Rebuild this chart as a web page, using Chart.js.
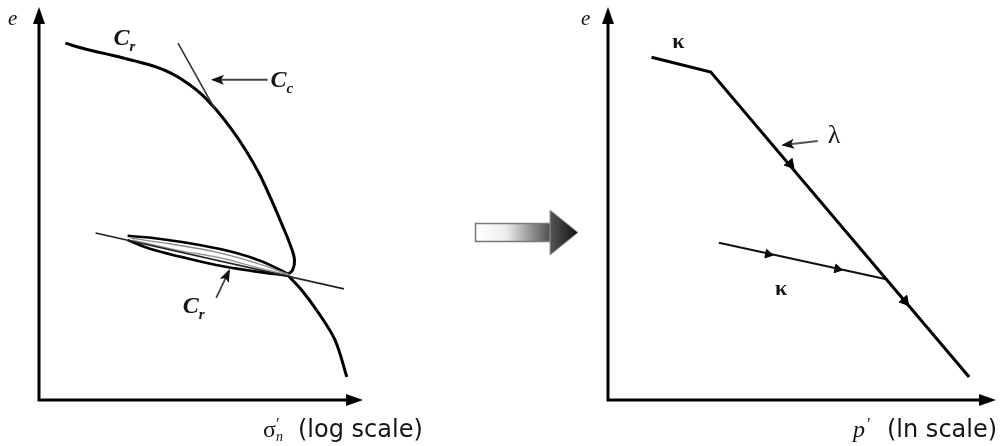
<!DOCTYPE html>
<html lang="en">
<head>
    <meta charset="UTF-8">
    <title>Compression and swelling lines</title>
    <script src="https://cdn.jsdelivr.net/npm/chart.js"></script>
    <style>
        body { margin: 0; background: #fff; }
        #wrap { position: relative; width: 1000px; height: 446px; overflow: hidden; }
        canvas, svg { position: absolute; top: 0; }
    </style>
</head>
<body>
<div id="wrap">
    <canvas id="leftChart" width="470" height="446" style="left:0"></canvas>
    <svg width="110" height="52" style="left:472px; top:206px">
        <defs>
            <linearGradient id="shaft" x1="0" x2="1" y1="0" y2="0">
                <stop offset="0" stop-color="#ffffff"/>
                <stop offset="0.4" stop-color="#eeeeee"/>
                <stop offset="1" stop-color="#4a4a4a"/>
            </linearGradient>
            <linearGradient id="head" x1="0" x2="1" y1="0" y2="0">
                <stop offset="0" stop-color="#555"/>
                <stop offset="1" stop-color="#111"/>
            </linearGradient>
        </defs>
        <rect x="3.5" y="17.5" width="76" height="18" fill="url(#shaft)" stroke="#777" stroke-width="1.5"/>
        <polygon points="78,4 106,26.5 78,49" fill="url(#head)" stroke="#999" stroke-width="1"/>
    </svg>
    <canvas id="rightChart" width="425" height="446" style="left:575px"></canvas>
</div>

<script>
    // e vs log(sigma'n): virgin curve, unload/reload loop, tangents
    const virginUpper = [[0.82, 9.15], [1.44, 9.00], [2.23, 8.85], [3.01, 8.69], [3.64, 8.54], [4.11, 8.38],
        [4.58, 8.15], [5.05, 7.85], [5.52, 7.44], [5.99, 6.95], [6.46, 6.38], [6.87, 5.79], [7.24, 5.13],
        [7.59, 4.46], [7.84, 3.95], [7.96, 3.59], [7.90, 3.33], [7.74, 3.21]];
    const virginLower = [[7.74, 3.21], [8.18, 2.82], [8.71, 2.23], [9.22, 1.54], [9.59, 0.59]];
    const loopUnload = [[2.76, 4.21], [3.79, 4.13], [5.05, 3.97], [6.15, 3.77], [6.99, 3.54], [7.81, 3.21]];
    const loopReload = [[2.76, 4.10], [3.48, 3.87], [4.42, 3.67], [5.52, 3.46], [6.62, 3.31], [7.81, 3.18]];
    const loopInnerA = [[2.85, 4.15], [4.11, 4.00], [5.52, 3.79], [6.77, 3.51], [7.81, 3.21]];
    const loopInnerB = [[2.92, 4.10], [4.26, 3.85], [5.67, 3.64], [6.87, 3.38], [7.81, 3.20]];
    const ccTangent = [[4.33, 9.15], [5.49, 7.44]];
    const crChord = [[1.76, 4.28], [9.50, 2.85]];
    const ccPointer = [[7.12, 8.21], [5.42, 8.21]];
    const crPointer = [[5.52, 2.62], [5.92, 3.31]];

    // e vs ln(p'): idealised NCL and swelling line
    const nclLine = [[1.13, 8.79], [2.67, 8.41], [9.38, 0.59]];
    const swellLine = [[2.88, 4.03], [7.20, 3.10]];
    const nclArrows = [[4.73, 6.05], [7.71, 2.54]];
    const swellArrows = [[4.16, 3.74], [5.96, 3.36]];
    const lambdaPointer = [[5.45, 6.64], [4.55, 6.54]];

    const SERIF = '"Liberation Serif", "DejaVu Serif", serif';
    const SANS = '"DejaVu Sans", sans-serif';

    function pts(a) { return a.map(p => ({ x: p[0], y: p[1] })); }

    function line(data, width, color, extra) {
        return Object.assign({
            data: pts(data), showLine: true, borderColor: color, borderWidth: width,
            pointRadius: 0, tension: 0.35, fill: false
        }, extra || {});
    }

    // axes with arrow tips, pointer arrowheads and text
    const sketchPlugin = {
        id: 'sketch',
        afterDatasetsDraw(chart) {
            const { ctx, chartArea: a } = chart;
            const sx = chart.scales.x, sy = chart.scales.y;
            ctx.save();

            ctx.strokeStyle = '#000';
            ctx.fillStyle = '#000';
            ctx.lineWidth = 3;
            ctx.beginPath();
            ctx.moveTo(a.left, a.top + 10);
            ctx.lineTo(a.left, a.bottom);
            ctx.lineTo(a.right - 10, a.bottom);
            ctx.stroke();
            ctx.beginPath();
            ctx.moveTo(a.left, a.top - 3);
            ctx.lineTo(a.left - 6, a.top + 14);
            ctx.lineTo(a.left + 6, a.top + 14);
            ctx.closePath();
            ctx.fill();
            ctx.beginPath();
            ctx.moveTo(a.right + 3, a.bottom);
            ctx.lineTo(a.right - 14, a.bottom - 6);
            ctx.lineTo(a.right - 14, a.bottom + 6);
            ctx.closePath();
            ctx.fill();

            // heads on pointer lines
            chart.data.datasets.forEach((ds, i) => {
                if (!ds.pointer) return;
                const el = chart.getDatasetMeta(i).data;
                const p1 = el[el.length - 2], p2 = el[el.length - 1];
                const ang = Math.atan2(p2.y - p1.y, p2.x - p1.x);
                ctx.save();
                ctx.translate(p2.x, p2.y);
                ctx.rotate(ang);
                ctx.fillStyle = '#111';
                ctx.beginPath();
                ctx.moveTo(2, 0);
                ctx.lineTo(-11, -5);
                ctx.lineTo(-8, 0);
                ctx.lineTo(-11, 5);
                ctx.closePath();
                ctx.fill();
                ctx.restore();
            });

            const notes = chart.config.options.notes || [];
            ctx.fillStyle = '#151515';
            ctx.textBaseline = 'alphabetic';
            notes.forEach(n => {
                const x0 = n.px !== undefined ? n.px : sx.getPixelForValue(n.x);
                const y = n.py !== undefined ? n.py : sy.getPixelForValue(n.y);
                let x = x0;
                n.parts.forEach(part => {
                    ctx.font = part.font;
                    if (part.at !== undefined) x = x0 + part.at;
                    ctx.fillText(part.text, x, y + (part.dy || 0));
                    x += ctx.measureText(part.text).width;
                });
            });
            ctx.restore();
        }
    };

    const baseOptions = (pad) => ({
        responsive: false,
        animation: false,
        layout: { padding: pad },
        plugins: { legend: { display: false }, tooltip: { enabled: false } },
        scales: {
            x: { type: 'linear', min: 0, max: 10, display: false },
            y: { type: 'linear', min: 0, max: 10, display: false }
        }
    });

    const leftOptions = baseOptions({ left: 39, right: 110, top: 10, bottom: 46 });
    leftOptions.notes = [
        { px: 8, py: 25, parts: [{ text: 'e', font: 'italic 21px ' + SERIF }] },
        { x: 2.32, y: 9.10, parts: [{ text: 'C', font: 'bold italic 24px ' + SERIF }, { text: 'r', font: 'bold italic 15px ' + SERIF, dy: 6 }] },
        { x: 7.21, y: 8.03, parts: [{ text: 'C', font: 'bold italic 24px ' + SERIF }, { text: 'c', font: 'bold italic 15px ' + SERIF, dy: 6 }] },
        { x: 4.48, y: 2.23, parts: [{ text: 'C', font: 'bold italic 24px ' + SERIF }, { text: 'r', font: 'bold italic 15px ' + SERIF, dy: 6 }] },
        { px: 263, py: 437, parts: [
            { text: 'σ', font: '24px ' + SERIF },
            { text: '′', font: '17px ' + SERIF, dy: -8, at: 13 },
            { text: 'n', font: 'italic 14px ' + SERIF, dy: 4, at: 13 },
            { text: '(log scale)', font: '24px ' + SANS, at: 35 }
        ] }
    ];

    new Chart(document.getElementById('leftChart'), {
        type: 'scatter',
        data: {
            datasets: [
                line(ccTangent, 1.6, '#333', { tension: 0 }),
                line(crChord, 1.6, '#222', { tension: 0 }),
                line(loopInnerA, 1.4, '#8a8a8a'),
                line(loopInnerB, 1.4, '#9a9a9a'),
                line(loopUnload, 2.6, '#000'),
                line(loopReload, 2.6, '#000'),
                line(virginUpper, 3, '#000'),
                line(virginLower, 3, '#000'),
                line(ccPointer, 2, '#444', { tension: 0, pointer: true }),
                line(crPointer, 1.8, '#444', { tension: 0, pointer: true })
            ]
        },
        options: leftOptions,
        plugins: [sketchPlugin]
    });

    const rightOptions = baseOptions({ left: 33, right: 3, top: 10, bottom: 46 });
    rightOptions.notes = [
        { px: 6, py: 25, parts: [{ text: 'e', font: 'italic 21px ' + SERIF }] },
        { x: 1.67, y: 9.03, parts: [{ text: 'κ', font: 'bold 22px ' + SERIF }] },
        { x: 5.71, y: 6.59, parts: [{ text: 'λ', font: '26px ' + SERIF }] },
        { x: 4.34, y: 2.69, parts: [{ text: 'κ', font: 'bold 22px ' + SERIF }] },
        { px: 278, py: 437, parts: [
            { text: 'p', font: 'italic 24px ' + SERIF },
            { text: '′', font: '17px ' + SERIF, dy: -8, at: 14 },
            { text: '(ln scale)', font: '24px ' + SANS, at: 34 }
        ] }
    ];

    new Chart(document.getElementById('rightChart'), {
        type: 'scatter',
        data: {
            datasets: [
                line(nclLine, 3, '#000', { tension: 0 }),
                line(swellLine, 2, '#111', { tension: 0 }),
                { data: pts(nclArrows), pointStyle: 'triangle', rotation: 139.5, pointRadius: 6,
                  backgroundColor: '#000', borderColor: '#000', borderWidth: 1 },
                { data: pts(swellArrows), pointStyle: 'triangle', rotation: 102, pointRadius: 5,
                  backgroundColor: '#000', borderColor: '#000', borderWidth: 1 },
                line(lambdaPointer, 2, '#555', { tension: 0, pointer: true })
            ]
        },
        options: rightOptions,
        plugins: [sketchPlugin]
    });
</script>
</body>
</html>
